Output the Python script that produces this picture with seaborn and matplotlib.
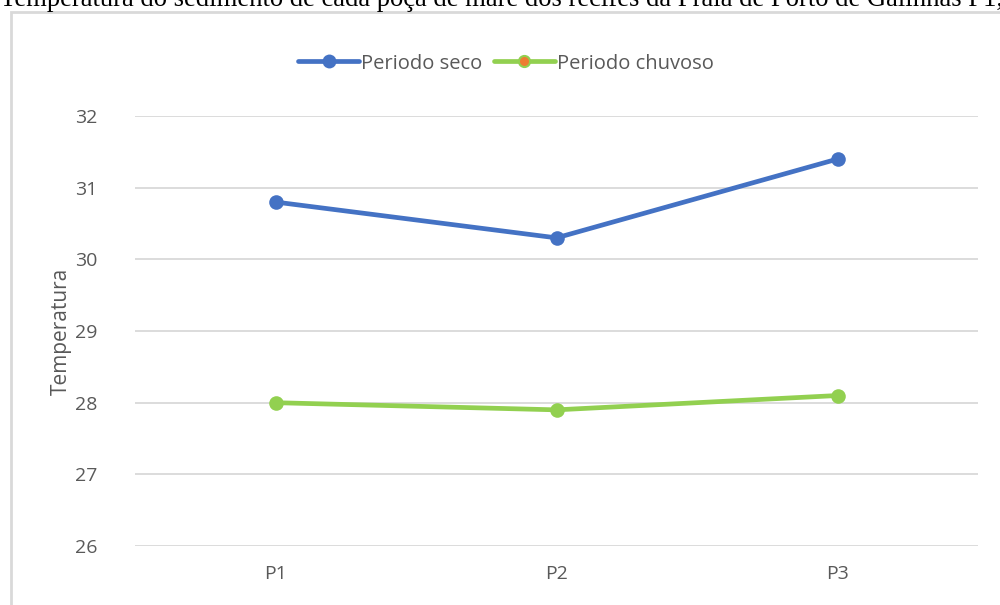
import pandas as pd
import seaborn as sns
import matplotlib.pyplot as plt
from matplotlib.lines import Line2D
from matplotlib.patches import Rectangle

# data
pontos = ['P1', 'P2', 'P3']
seco = [30.8, 30.3, 31.4]
chuvoso = [28.0, 27.9, 28.1]
series = ['Periodo seco', 'Periodo chuvoso']
cores = {'Periodo seco': '#4472C4', 'Periodo chuvoso': '#92D050'}

df = pd.DataFrame({
    'ponto': pontos * 2,
    'temperatura': seco + chuvoso,
    'periodo': [series[0]] * 3 + [series[1]] * 3,
})

sns.set_style('white')
plt.rcParams['font.family'] = ['Open Sans', 'DejaVu Sans']

fig = plt.figure(figsize=(10, 6.05), dpi=100)
ax = fig.add_axes([0.135, 0.0975, 0.843, 0.7107])

sns.lineplot(
    data=df, x='ponto', y='temperatura', hue='periodo',
    palette=cores, marker='o', markersize=10.5, markeredgewidth=0,
    linewidth=3.4, sort=False, legend=False, ax=ax,
)

ax.set_xlim(-0.5, 2.5)
ax.set_ylim(26, 32)
ax.set_yticks(range(26, 33))
ax.grid(axis='y', color='#D9D9D9', linewidth=1.3)
ax.grid(axis='x', visible=False)
for s in ax.spines.values():
    s.set_visible(False)
ax.tick_params(axis='both', length=0, labelsize=14, colors='#595959')
ax.tick_params(axis='y', pad=27)
ax.tick_params(axis='x', pad=14)
ax.set_xlabel('')
ax.set_ylabel('Temperatura', fontsize=15, color='#595959', labelpad=2)

handles = [
    Line2D([], [], color=cores[series[0]], linewidth=3.4, marker='o',
           markersize=10, markeredgewidth=0),
    Line2D([], [], color=cores[series[1]], linewidth=3.4, marker='o',
           markersize=8, markerfacecolor='#ED7D31',
           markeredgecolor=cores[series[1]], markeredgewidth=1.5),
]
fig.legend(handles, series, loc='center', bbox_to_anchor=(0.506, 0.895),
           ncol=2, frameon=False, fontsize=14.5, labelcolor='#595959',
           handlelength=3.0, handletextpad=0.1, columnspacing=0.6)

# chart frame, cut by the picture edge
fig.patches.append(Rectangle((0.011, -0.1), 1.2, 1.08, transform=fig.transFigure,
                             fill=False, edgecolor='#D9D9D9', linewidth=2))

# caption above the chart, cut off by the top edge as in the reference
fig.text(0.0, 1.0, 'Temperatura do sedimento de cada poça de maré dos recifes '
         'da Praia de Porto de Galinhas P1, P2 e P3',
         family='Liberation Serif', fontsize=19.2, color='black',
         ha='left', va='center')

fig.savefig('out.png', dpi=100)
